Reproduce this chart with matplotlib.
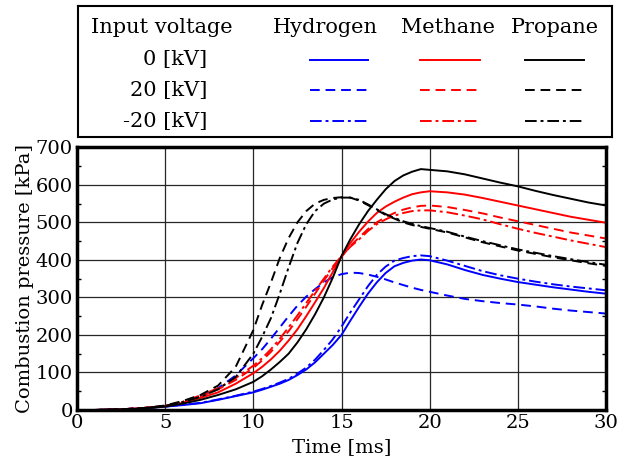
import matplotlib
matplotlib.use("Agg")
import matplotlib.pyplot as plt
from matplotlib.lines import Line2D

plt.rcParams["font.family"] = ["DejaVu Serif"]

# time axis [ms]
t = [0, 1, 2, 3, 4, 5, 6, 7, 8, 9, 10, 10.5, 11, 11.5, 12, 12.5, 13, 13.5, 14, 14.5,
     15, 15.5, 16, 16.5, 17, 17.5, 18, 18.5, 19, 19.5, 20, 21, 22, 23, 24, 25, 26, 27, 28, 29, 30]

# combustion pressure [kPa]
h2_0kV = [0, 0, 1, 3, 5, 9, 13, 18, 27, 37, 47, 54, 62, 70, 80, 93, 108, 127, 150, 173,
          200, 238, 275, 310, 340, 365, 383, 392, 398, 401, 399, 388, 373, 360, 350, 341, 334, 327, 321, 315, 310]
h2_p20kV = [0, 0, 1, 3, 6, 11, 20, 35, 58, 92, 138, 162, 190, 220, 250, 278, 302, 322, 340, 354,
            362, 366, 365, 361, 355, 348, 340, 333, 326, 320, 315, 305, 296, 290, 285, 281, 276, 270, 265, 261, 257]
h2_m20kV = [0, 0, 1, 3, 5, 9, 14, 19, 28, 38, 49, 56, 64, 73, 83, 97, 113, 134, 160, 188,
            222, 260, 295, 330, 360, 382, 398, 405, 410, 412, 410, 398, 384, 370, 359, 350, 342, 335, 329, 324, 319]

ch4_0kV = [0, 0, 1, 3, 6, 10, 19, 32, 47, 70, 98, 115, 135, 158, 185, 215, 250, 287, 325, 367,
           410, 445, 475, 502, 525, 542, 555, 566, 575, 580, 583, 580, 574, 565, 555, 545, 535, 525, 515, 507, 499]
ch4_p20kV = [0, 0, 1, 3, 6, 11, 21, 37, 55, 80, 112, 132, 155, 182, 210, 242, 275, 310, 345, 378,
             408, 437, 460, 482, 500, 514, 525, 534, 540, 544, 545, 541, 533, 524, 513, 503, 493, 483, 473, 465, 457]
ch4_m20kV = [0, 0, 1, 3, 6, 11, 22, 39, 58, 85, 118, 138, 162, 190, 220, 252, 285, 318, 350, 382,
             410, 435, 455, 477, 495, 508, 518, 525, 530, 532, 532, 527, 518, 508, 495, 483, 472, 462, 452, 443, 434]

c3h8_0kV = [0, 0, 1, 2, 5, 9, 17, 27, 40, 55, 75, 90, 108, 128, 150, 180, 215, 255, 300, 352,
            410, 455, 495, 530, 560, 588, 610, 625, 635, 642, 640, 636, 628, 617, 606, 596, 584, 573, 563, 553, 545]
c3h8_p20kV = [0, 0, 1, 3, 6, 12, 24, 40, 65, 115, 213, 280, 340, 405, 458, 500, 530, 550, 560, 565,
              567, 566, 558, 546, 533, 520, 510, 500, 493, 488, 483, 473, 460, 447, 436, 425, 416, 407, 399, 391, 384]
c3h8_m20kV = [0, 0, 1, 3, 6, 11, 21, 35, 55, 88, 150, 195, 245, 310, 380, 445, 495, 530, 550, 561,
              566, 566, 560, 548, 535, 522, 512, 503, 496, 490, 485, 475, 462, 450, 439, 428, 419, 410, 402, 394, 387]

gases = ["Hydrogen", "Methane", "Propane"]
voltages = ["0 [kV]", "20 [kV]", "-20 [kV]"]
colors = ["#0000ff", "#ff0000", "#000000"]
styles = ["-", (0, (5, 3)), (0, (6, 2, 1.5, 2))]
series = [[h2_0kV, h2_p20kV, h2_m20kV],
          [ch4_0kV, ch4_p20kV, ch4_m20kV],
          [c3h8_0kV, c3h8_p20kV, c3h8_m20kV]]

fig = plt.figure(figsize=(6.19, 4.59), dpi=100)
ax = fig.add_axes([0.1244, 0.1068, 0.8546, 0.5722])

for gi, gas in enumerate(gases):
    for vi in range(3):
        ax.plot(t, series[gi][vi], color=colors[gi], linestyle=styles[vi], lw=1.4)

ax.set_xlim(0, 30)
ax.set_ylim(0, 700)
ax.set_xticks(range(0, 31, 5))
ax.set_yticks(range(0, 701, 100))
ax.set_yticks(range(50, 700, 100), minor=True)
ax.tick_params(axis="both", which="major", length=0, labelsize=14, pad=3)
ax.tick_params(axis="y", which="minor", direction="in", length=3, width=1, left=True, right=True)
ax.grid(True, which="major", color="0.15", lw=0.9)
for s in ax.spines.values():
    s.set_linewidth(2.5)
ax.set_xlabel("Time [ms]", fontsize=14, labelpad=4)
ax.set_ylabel("Combustion pressure [kPa]", fontsize=14, labelpad=1)

# table-style legend above the plot
lg = fig.add_axes([0.126, 0.7015, 0.863, 0.2855])
lg.set_xlim(0, 1)
lg.set_ylim(0, 1)
lg.set_xticks([])
lg.set_yticks([])
for s in lg.spines.values():
    s.set_linewidth(1.5)

row_y = [0.59, 0.355, 0.12]
col_x = [0.4625, 0.693, 0.893]
seg = [(0.434, 0.543), (0.640, 0.753), (0.837, 0.948)]
lg.text(0.157, 0.835, "Input voltage", ha="center", va="center", fontsize=15)
for gi, gas in enumerate(gases):
    lg.text(col_x[gi], 0.835, gas, ha="center", va="center", fontsize=15)
for vi, v in enumerate(voltages):
    lg.text(0.2416, row_y[vi], v, ha="right", va="center", fontsize=15)
    for gi in range(3):
        x0, x1 = seg[gi]
        lg.add_line(Line2D([x0, x1], [row_y[vi], row_y[vi]], color=colors[gi],
                           linestyle=styles[vi], lw=1.4))

fig.savefig("out.png", dpi=100)
